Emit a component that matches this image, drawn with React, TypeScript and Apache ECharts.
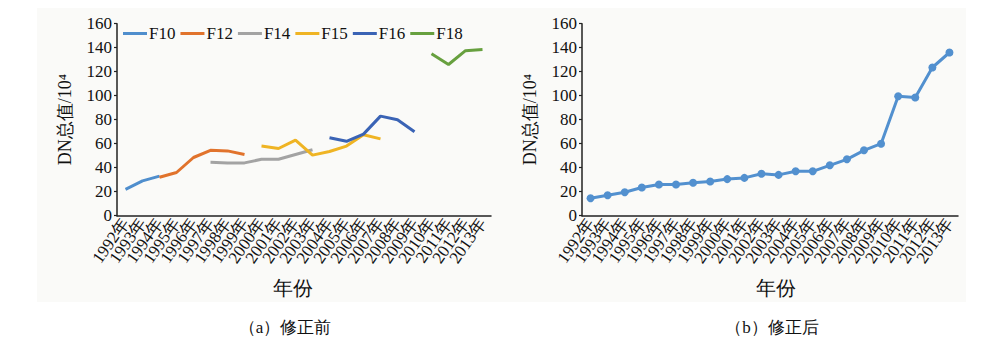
import React, { useEffect, useRef } from "react";
import * as echarts from "echarts";

const years = [
  "1992年", "1993年", "1994年", "1995年", "1996年", "1997年", "1998年", "1999年",
  "2000年", "2001年", "2002年", "2003年", "2004年", "2005年", "2006年", "2007年",
  "2008年", "2009年", "2010年", "2011年", "2012年", "2013年",
];

const _ = null;
// (a) before correction – per-sensor series
const F10 = [22, 29, 33, _, _, _, _, _, _, _, _, _, _, _, _, _, _, _, _, _, _, _];
const F12 = [_, _, 32, 36, 48.5, 54.5, 54, 51, _, _, _, _, _, _, _, _, _, _, _, _, _, _];
const F14 = [_, _, _, _, _, 44.5, 44, 44, 47, 47, 51, 55, _, _, _, _, _, _, _, _, _, _];
const F15 = [_, _, _, _, _, _, _, _, 58, 56, 63, 50.5, 53.5, 58, 67.5, 64, _, _, _, _, _, _];
const F16 = [_, _, _, _, _, _, _, _, _, _, _, _, 65, 62, 68, 83, 80, 70, _, _, _, _];
const F18 = [_, _, _, _, _, _, _, _, _, _, _, _, _, _, _, _, _, _, 135, 126, 137.5, 138.5];

// (b) after correction
const corrected = [
  14.5, 17, 19.5, 23.5, 26, 26, 27.5, 28.5, 30.5, 31.5, 35, 34,
  37, 37, 42, 47, 54.5, 60, 99.5, 98.5, 123.5, 136,
];

const yTicks = { min: 0, max: 160, interval: 20 };

const seriesDefs = [
  { name: "F10", data: F10, color: "#4f8ecd" },
  { name: "F12", data: F12, color: "#e1732c" },
  { name: "F14", data: F14, color: "#a3a3a3" },
  { name: "F15", data: F15, color: "#efb424" },
  { name: "F16", data: F16, color: "#3a63b5" },
  { name: "F18", data: F18, color: "#67a03f" },
];

const FONT = "Liberation Serif";

export default function App() {
  const ref = useRef<HTMLDivElement>(null);

  useEffect(() => {
    if (!ref.current) return;
    const chart = echarts.init(ref.current, undefined, { renderer: "svg" });

    const xAxisBase = {
      type: "category" as const,
      data: years,
      boundaryGap: true,
      axisLine: { lineStyle: { color: "#222", width: 1.5 } },
      axisTick: { inside: true, length: 4, lineStyle: { color: "#222", width: 1.2 } },
      axisLabel: {
        rotate: 55,
        interval: 0,
        margin: 4,
        fontFamily: FONT,
        fontSize: 17,
        color: "#111",
      },
    };
    const yAxisBase = {
      type: "value" as const,
      ...yTicks,
      splitLine: { show: false },
      axisLine: { show: true, lineStyle: { color: "#222", width: 1.5 } },
      axisTick: { show: true, length: 3, lineStyle: { color: "#222", width: 1.2 } },
      axisLabel: { fontFamily: FONT, fontSize: 17, color: "#111", margin: 5 },
      name: "DN总值/10⁴",
      nameLocation: "middle" as const,
      nameGap: 43,
      nameTextStyle: { fontFamily: FONT, fontSize: 18, color: "#111" },
    };

    chart.setOption({
      animation: false,
      textStyle: { fontFamily: FONT },
      graphic: [
        {
          type: "rect",
          z: -10,
          shape: { x: 37, y: 8, width: 929, height: 294 },
          style: { fill: "#fafaf8" },
          silent: true,
        },
        {
          type: "text",
          x: 293,
          y: 288,
          style: { text: "年份", font: `20px ${FONT}`, fill: "#111", align: "center", verticalAlign: "middle" },
        },
        {
          type: "text",
          x: 776,
          y: 288,
          style: { text: "年份", font: `20px ${FONT}`, fill: "#111", align: "center", verticalAlign: "middle" },
        },
        {
          type: "text",
          x: 285,
          y: 327,
          style: { text: "（a）修正前", font: `17px ${FONT}`, fill: "#111", align: "center", verticalAlign: "middle" },
        },
        {
          type: "text",
          x: 772,
          y: 327,
          style: { text: "（b）修正后", font: `17px ${FONT}`, fill: "#111", align: "center", verticalAlign: "middle" },
        },
      ],
      legend: {
        top: 25,
        left: 123,
        padding: 0,
        icon: "rect",
        itemWidth: 24,
        itemHeight: 3,
        itemGap: 5,
        textStyle: { fontFamily: FONT, fontSize: 17, color: "#111", padding: [0, 0, 0, -3] },
        data: seriesDefs.map((s) => s.name),
      },
      grid: [
        { left: 117, right: 509, top: 23.7, bottom: 127.3 },
        { left: 582, right: 42, top: 23.7, bottom: 127.3 },
      ],
      xAxis: [
        { ...xAxisBase, gridIndex: 0 },
        { ...xAxisBase, gridIndex: 1 },
      ],
      yAxis: [
        { ...yAxisBase, gridIndex: 0 },
        { ...yAxisBase, gridIndex: 1 },
      ],
      series: [
        ...seriesDefs.map((s) => ({
          name: s.name,
          type: "line",
          xAxisIndex: 0,
          yAxisIndex: 0,
          data: s.data,
          symbol: "none",
          connectNulls: false,
          color: s.color,
          lineStyle: { width: 3, color: s.color },
        })),
        {
          name: "修正后",
          type: "line",
          xAxisIndex: 1,
          yAxisIndex: 1,
          data: corrected,
          symbol: "circle",
          symbolSize: 8,
          color: "#5290cf",
          itemStyle: { color: "#5290cf" },
          lineStyle: { width: 3, color: "#5290cf" },
        },
      ],
    });

    return () => chart.dispose();
  }, []);

  return (
    <div
      ref={ref}
      style={{ position: "fixed", left: 0, top: 0, width: 1000, height: 343, background: "#fff" }}
    />
  );
}
